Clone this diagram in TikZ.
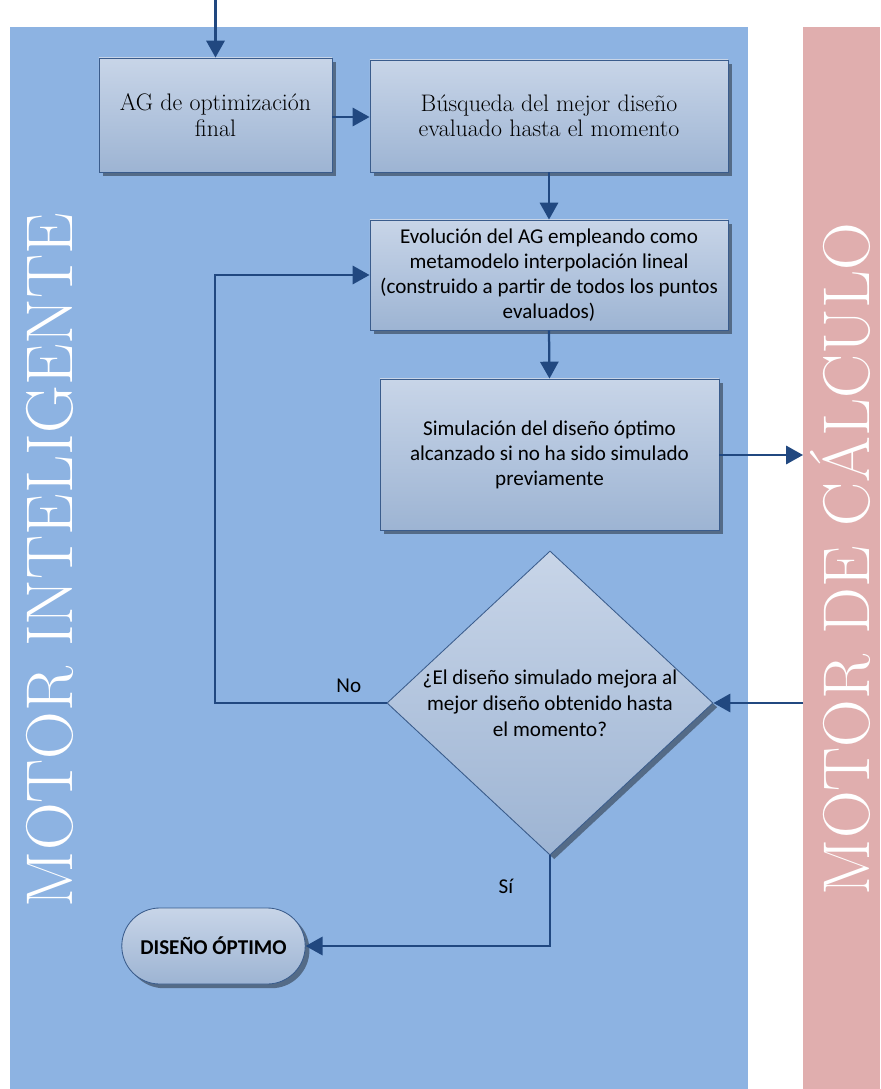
\documentclass[tikz,border=0pt]{standalone}
\usepackage{fontspec}
\setsansfont{Carlito}
\definecolor{laneA}{RGB}{141, 179, 226}
\definecolor{laneB}{RGB}{224, 174, 174}
\definecolor{wire}{RGB}{33, 72, 128}
\definecolor{rim}{RGB}{58, 92, 140}
\definecolor{shadeTop}{RGB}{200, 213, 232}
\definecolor{shadeBot}{RGB}{157, 180, 211}
\usetikzlibrary{shapes.geometric, shapes.misc, arrows.meta, shadows}

\tikzset{
  flowbox/.style={draw=rim, line width=0.6pt, top color=shadeTop, bottom color=shadeBot,
    drop shadow={shadow xshift=3pt, shadow yshift=-3pt, fill=black, opacity=0.4},
    align=center, inner sep=2pt, font=\fontsize{17}{18}\selectfont},
  sansbox/.style={flowbox, font=\sffamily\fontsize{15}{17.7}\selectfont},
  link/.style={wire, line width=1.6pt, -{Triangle[length=12pt, width=13pt]}},
  tag/.style={text=black, font=\sffamily\fontsize{15}{18}\selectfont},
  lanetext/.style={white, rotate=90, anchor=base, inner sep=0pt, font=\fontsize{47}{47}\selectfont}
}

\begin{document}
\begin{tikzpicture}[x=0.025cm, y=-0.025cm]
  \useasboundingbox (0,0) rectangle (880,1089);

  % swim lanes
  \fill[laneA] (10,27) rectangle (748,1089);
  \fill[laneB] (803,27) rectangle (880,1089);
  \node[lanetext] (intel) at (72,560) {MOTOR INTELIGENTE};
  \node[lanetext] (calc) at (869,559) {MOTOR DE CÁLCULO};

  % process steps
  \node[flowbox, minimum width=5.825cm, minimum height=2.85cm] (ag) at (215.5,115)
    {AG de optimización\\final};
  \node[flowbox, minimum width=8.95cm, minimum height=2.8cm] (busq) at (549,116)
    {Búsqueda del mejor diseño\\evaluado hasta el momento};
  \node[sansbox, minimum width=8.95cm, minimum height=2.75cm] (evol) at (549,275)
    {Evolución del AG empleando como\\metamodelo interpolación lineal\\(construido a partir de todos los puntos\\evaluados)};
  \node[sansbox, minimum width=8.475cm, minimum height=3.775cm] (simu) at (549.5,454.5)
    {Simulación del diseño óptimo\\alcanzado si no ha sido simulado\\previamente};

  % decision
  \node[flowbox, diamond, inner sep=0pt, minimum width=8.15cm, minimum height=7.6cm,
    label={[align=center, font=\sffamily\fontsize{15}{18.4}\selectfont]center:{¿El diseño simulado mejora al\\mejor diseño obtenido hasta\\el momento?}}]
    (dec) at (550,703) {};

  % end
  \node[sansbox, rounded rectangle, minimum width=4.725cm, minimum height=1.9cm,
    font=\sffamily\bfseries\fontsize{15}{18}\selectfont] (fin) at (213.5,946) {DISEÑO ÓPTIMO};

  % free ends
  \coordinate (start) at (215.5,0);
  \coordinate (toCalc) at (803,455);
  \coordinate (fromCalc) at (803,703);
  \coordinate (back) at (215,703);

  % connectors
  \draw[link] (start) -- (ag.north);
  \draw[link] (ag.east |- 0,117) -- (busq.west |- 0,117);
  \draw[link] (busq.south) -- (evol.north);
  \draw[link] (evol.south) -- (simu.north);
  \draw[link] (simu.east |- toCalc) -- (toCalc);
  \draw[link] (fromCalc) -- (dec.east);
  \draw[link] (dec.west) -- node[tag, pos=0.22, above=3pt] {No}
    (back) |- (evol.west);
  \draw[link] (dec.south) |- node[tag, pos=0.17, left=22pt] {Sí}
    (fin.east);
\end{tikzpicture}
\end{document}
